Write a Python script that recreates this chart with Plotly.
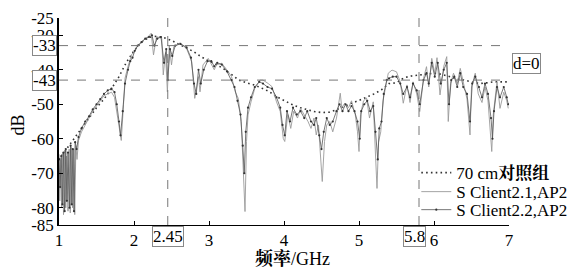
import plotly.graph_objects as go

# ---- data ----
freq_ref = [1.00, 1.10, 1.20, 1.30, 1.40, 1.50, 1.60, 1.70, 1.80, 1.90, 2.00, 2.10, 2.20, 2.30,
            2.40, 2.50, 2.60, 2.70, 2.80, 2.90, 3.00, 3.10, 3.20, 3.30, 3.40, 3.50, 3.60, 3.70,
            3.80, 3.90, 4.00, 4.10, 4.20, 4.30, 4.40, 4.50, 4.60, 4.70, 4.80, 4.90, 5.00, 5.10,
            5.20, 5.30, 5.40, 5.50, 5.60, 5.70, 5.80, 5.90, 6.00, 6.10, 6.20, 6.30, 6.40, 6.50,
            6.60, 6.70, 6.80, 6.90, 7.00]
db_ref = [-66, -63, -60, -57, -54, -51, -48.5, -45.5, -42, -37.8, -34.5, -32, -30.6, -30.3,
          -30.7, -31.5, -32.6, -33.6, -34.8, -36.3, -37.3, -38.5, -39.8, -41.5, -43, -43.8, -44.4, -45.3,
          -46.3, -47.8, -49, -50, -50.9, -51.5, -52.1, -52.4, -52.3, -51.6, -50.6, -49.7, -48.9, -48,
          -47, -45.8, -44, -43.8, -42.3, -41.8, -41.5, -41.2, -41, -41.3, -42, -42.6, -43, -43.6,
          -44, -43.8, -43.5, -43.5, -43.5]

freq_c21 = [1.00, 1.01, 1.02, 1.035, 1.05, 1.06, 1.075, 1.09, 1.10, 1.12, 1.135, 1.15, 1.165, 1.18,
            1.195, 1.21, 1.225, 1.24, 1.26, 1.30, 1.35, 1.40, 1.45, 1.50, 1.55, 1.60, 1.65, 1.70,
            1.74, 1.77, 1.80, 1.83, 1.86, 1.88, 1.92, 1.95, 1.97, 2.00, 2.04, 2.08, 2.125, 2.19,
            2.23, 2.26, 2.30, 2.37, 2.39, 2.42, 2.445, 2.47, 2.50, 2.53, 2.61, 2.70, 2.77, 2.81,
            2.86, 2.88, 2.92, 2.99, 3.036, 3.07, 3.10, 3.17, 3.24, 3.30, 3.35, 3.39, 3.43, 3.46,
            3.48, 3.50, 3.52, 3.56, 3.61, 3.68, 3.72, 3.79, 3.84, 3.90, 3.95, 3.99, 4.01, 4.05,
            4.09, 4.13, 4.18, 4.22, 4.27, 4.32, 4.36, 4.40, 4.43, 4.46, 4.48, 4.51, 4.54, 4.57,
            4.61, 4.65, 4.70, 4.75, 4.77, 4.81, 4.86, 4.90, 4.95, 4.98, 5.00, 5.02, 5.06, 5.10,
            5.14, 5.19, 5.22, 5.24, 5.26, 5.29, 5.32, 5.37, 5.39, 5.44, 5.50, 5.55, 5.59, 5.64,
            5.68, 5.72, 5.77, 5.81, 5.86, 5.90, 5.93, 5.97, 6.01, 6.04, 6.08, 6.13, 6.17, 6.19,
            6.22, 6.26, 6.31, 6.35, 6.39, 6.44, 6.48, 6.50, 6.55, 6.59, 6.64, 6.68, 6.72, 6.77,
            6.79, 6.84, 6.88, 6.93, 6.97, 6.99]
db_c21 = [-64.5, -78, -66, -80, -64, -82, -63.5, -80, -65, -81, -63, -81.5, -62.5, -80,
          -63, -82, -62, -66, -60.5, -58, -56, -54, -52, -50.5, -49, -47.5, -47, -46.5,
          -48, -52, -57, -60.5, -50, -42.5, -39, -37, -35.5, -35, -33.3, -32.5, -31.4, -30.4,
          -29.4, -35.7, -30.4, -30.9, -41.5, -35, -46.4, -33, -38.6, -33.3, -32.3, -33.8, -37.7, -48.3,
          -42, -46.4, -38.6, -36.7, -38.6, -40, -38.6, -38.1, -40.1, -42, -46.4, -48.3, -55, -68.6,
          -81.1, -60.8, -53.1, -49.3, -45.4, -43, -43, -44, -44.9, -49.3, -52.1, -59.9, -60.8, -53,
          -57, -52, -54, -51.2, -53, -55, -57, -54, -58.9, -56, -62.8, -72.4, -60.8, -56,
          -55, -58, -54, -46.8, -51, -49.7, -51, -49, -53, -58, -63.7, -53, -49, -48.2,
          -54, -49.3, -64.7, -74.4, -61, -58, -49, -43.5, -41, -40.1, -40.6, -43.5, -49.7, -44.4,
          -49.5, -43.5, -47, -52.1, -42.5, -39.1, -45, -36.7, -41, -36.5, -47.3, -39, -36.2, -55,
          -44, -41, -44, -39.6, -44, -48.5, -58.9, -45, -41, -47, -49.5, -45, -49, -63.7,
          -53, -43.5, -51.2, -46.5, -49, -51.2]

freq_c22 = [1.00, 1.015, 1.03, 1.045, 1.06, 1.075, 1.09, 1.105, 1.12, 1.14, 1.155, 1.17, 1.185, 1.20,
            1.215, 1.235, 1.26, 1.30, 1.35, 1.40, 1.45, 1.50, 1.55, 1.60, 1.65, 1.70, 1.74, 1.77,
            1.80, 1.82, 1.85, 1.88, 1.92, 1.95, 1.98, 2.01, 2.05, 2.10, 2.15, 2.20, 2.24, 2.27,
            2.31, 2.36, 2.40, 2.43, 2.45, 2.48, 2.51, 2.55, 2.62, 2.70, 2.76, 2.80, 2.83, 2.86,
            2.89, 2.93, 2.98, 3.03, 3.07, 3.11, 3.17, 3.24, 3.30, 3.34, 3.38, 3.42, 3.45, 3.47,
            3.49, 3.52, 3.56, 3.61, 3.67, 3.72, 3.78, 3.84, 3.90, 3.95, 3.98, 4.01, 4.04, 4.08,
            4.12, 4.17, 4.22, 4.27, 4.31, 4.36, 4.40, 4.43, 4.47, 4.50, 4.53, 4.57, 4.61, 4.65,
            4.70, 4.74, 4.78, 4.82, 4.86, 4.90, 4.94, 4.98, 5.01, 5.03, 5.07, 5.11, 5.15, 5.19,
            5.22, 5.25, 5.27, 5.30, 5.33, 5.37, 5.40, 5.45, 5.50, 5.55, 5.59, 5.64, 5.68, 5.72,
            5.77, 5.81, 5.86, 5.90, 5.93, 5.97, 6.01, 6.05, 6.09, 6.13, 6.17, 6.20, 6.23, 6.27,
            6.31, 6.35, 6.39, 6.44, 6.48, 6.51, 6.55, 6.60, 6.64, 6.68, 6.72, 6.76, 6.78, 6.80,
            6.84, 6.88, 6.93, 6.97, 6.99]
db_c22 = [-66, -74, -65, -79, -64, -81, -63, -78, -64, -80, -62, -79, -63, -81,
          -61, -63, -59.5, -57, -55, -53.5, -51.5, -50, -48.5, -47, -46, -45.5, -46.5, -50,
          -55, -59, -52, -44, -40, -37.5, -36.5, -34.5, -33, -32, -31, -30.5, -30, -33,
          -31, -30.5, -38, -34, -43, -34, -36, -33, -32.5, -33.5, -36.5, -44, -47, -40,
          -44, -40, -37.5, -37.5, -39, -38, -38.5, -40.5, -43, -45, -49, -53, -62, -70,
          -58, -51, -48, -45, -43.5, -44, -45, -45.5, -48, -51, -56, -59, -52, -55,
          -51, -53, -52, -54, -52, -55, -56, -54, -59, -63, -58, -54, -56, -55,
          -52, -50, -52, -50, -52, -50.5, -52, -55, -60, -52, -50, -49, -52, -50.5,
          -58, -66, -57, -55, -47, -43, -42.5, -42, -42, -44, -47, -45, -48, -44,
          -46, -50, -43, -41, -44, -38, -42, -38, -44, -40, -38, -50, -43, -42,
          -45, -41, -45, -47, -55, -44, -42, -45, -48, -44, -47, -54, -60, -52,
          -45, -48, -45, -48, -50]

x_ticks = [1, 2, 3, 4, 5, 6, 7]
y_ticks = [-85, -80, -70, -60, -50, -40, -30, -25]
y_ticktext = ["-85", "-80", "-70", "-60", "-50", "-40", "-30", "-25"]
marker_x = [2.45, 5.8]
marker_y = [-33, -43]

SERIF = "'Liberation Serif', 'Times New Roman', 'Noto Serif CJK SC', 'Noto Sans CJK SC', serif"

fig = go.Figure()
fig.add_trace(go.Scatter(x=freq_ref, y=db_ref, mode="lines", name="70 cm<b>对照组</b>",
                         legend="legend",
                         line=dict(color="#333", width=1.6, dash="1.6px,3.2px")))
fig.add_trace(go.Scatter(x=freq_c21, y=db_c21, mode="lines", name="S Client2.1,AP2",
                         legend="legend2",
                         line=dict(color="#9a9a9a", width=0.9)))
fig.add_trace(go.Scatter(x=freq_c22, y=db_c22, mode="lines+markers", name="S Client2.2,AP2",
                         legend="legend3",
                         line=dict(color="#555", width=0.8),
                         marker=dict(size=2.2, color="#333")))

# crosshair lines
for xv in marker_x:
    fig.add_shape(type="line", x0=xv, x1=xv, y0=-85, y1=-25, xref="x", yref="y",
                  line=dict(color="#777", width=1, dash="dash"))
for yv in marker_y:
    fig.add_shape(type="line", x0=1, x1=7, y0=yv, y1=yv, xref="x", yref="y",
                  line=dict(color="#777", width=1, dash="dash"))

box = dict(bordercolor="#888", borderwidth=1, borderpad=0, showarrow=False,
           font=dict(family=SERIF, size=17, color="black"), bgcolor="white")
for yv in marker_y:
    fig.add_annotation(text=str(yv), xref="paper", yref="y", x=-0.004, y=yv,
                       xanchor="right", yanchor="middle", **box)
for xv in marker_x:
    fig.add_annotation(text=str(xv), xref="x", yref="paper", x=xv, y=-0.005,
                       xanchor="center", yanchor="top",
                       xshift=(-5 if xv > 5 else 0), **box)
fig.add_annotation(text="d=0", xref="paper", yref="paper", x=1.038, y=0.78,
                   xanchor="center", yanchor="middle", **box)

fig.add_annotation(text="dB", xref="paper", yref="paper", x=-0.09, y=0.483,
                   textangle=-90, showarrow=False, xanchor="center", yanchor="middle",
                   font=dict(family=SERIF, size=18, color="black"))
fig.add_annotation(text="<b>频率</b>/GHz", xref="paper", yref="paper", x=0.518, y=-0.16,
                   showarrow=False, xanchor="center", yanchor="middle",
                   font=dict(family=SERIF, size=18, color="black"))

leg = dict(x=0.794, xanchor="left", yanchor="middle", bgcolor="rgba(0,0,0,0)",
           font=dict(family=SERIF, size=17, color="black"), itemwidth=30)
# the page body adds an 8px offset, so the figure is 8px smaller and margins shifted
fig.update_layout(
    width=572, height=260,
    margin=dict(l=51, r=71, t=10, b=43, autoexpand=False),
    paper_bgcolor="white", plot_bgcolor="white",
    font=dict(family=SERIF, size=17, color="black"),
    showlegend=True,
    legend=dict(y=0.251, **leg),
    legend2=dict(y=0.159, **leg),
    legend3=dict(y=0.072, **leg),
)
fig.update_xaxes(range=[1, 7], tickvals=x_ticks, ticks="inside", ticklen=4,
                 tickcolor="black", showline=True, linecolor="black", linewidth=1,
                 showgrid=False, zeroline=False, tickfont=dict(size=17))
fig.update_yaxes(range=[-85, -25], tickvals=y_ticks, ticktext=y_ticktext, ticks="inside",
                 ticklen=4, tickcolor="black", showline=True, linecolor="black",
                 linewidth=1.5, showgrid=False, zeroline=False, tickfont=dict(size=17))

fig.write_html("out.html")
